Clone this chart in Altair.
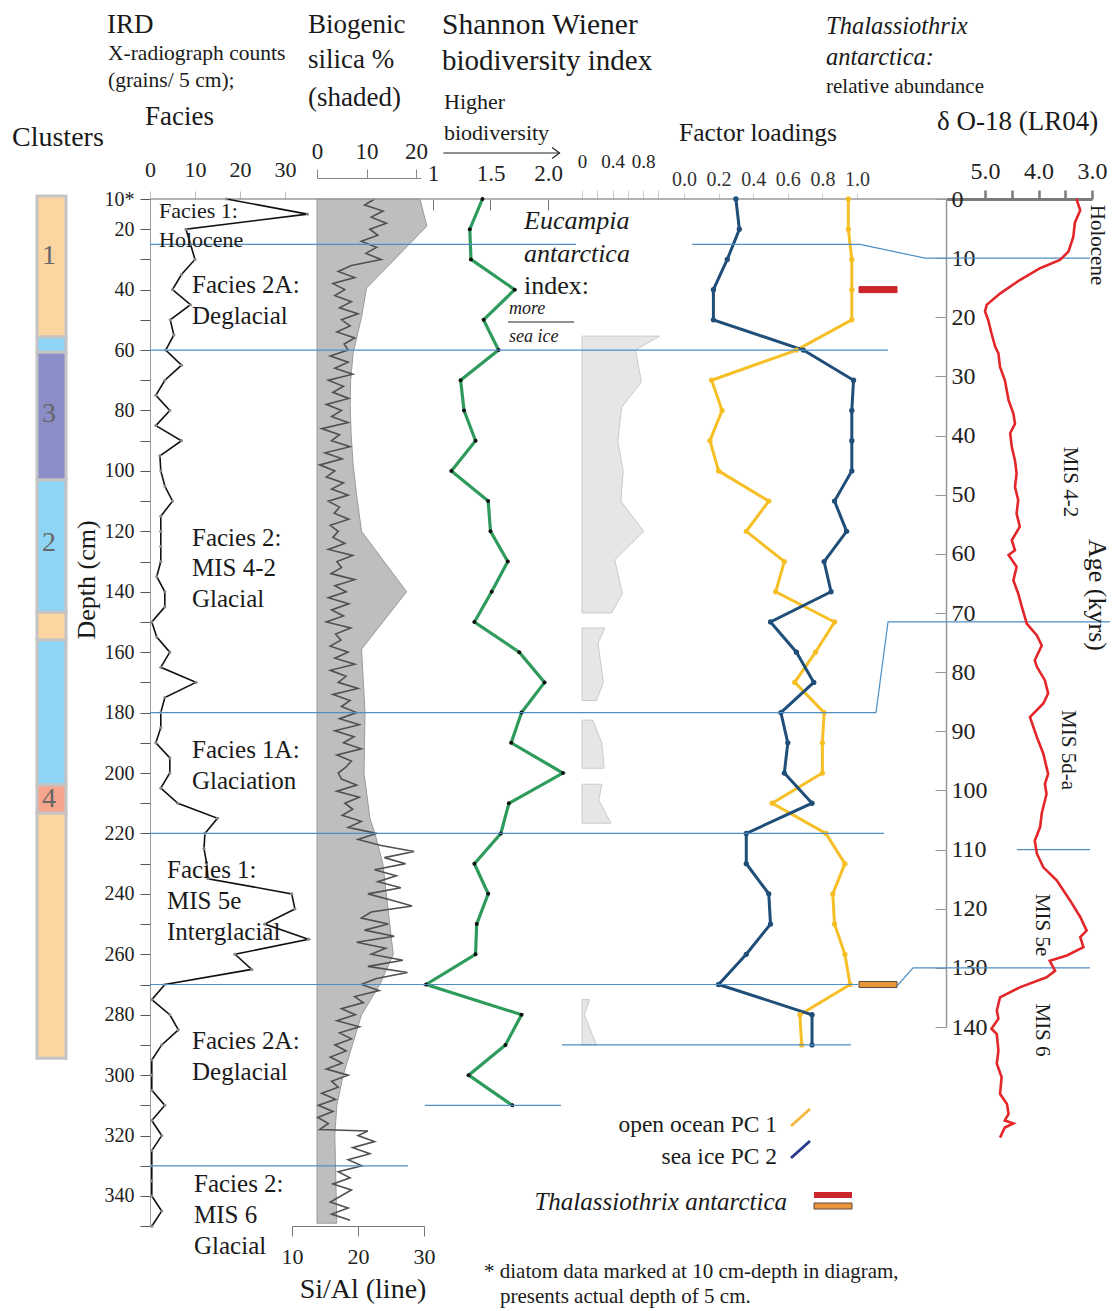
import altair as alt
import pandas as pd

W, H = 1104, 1303
M = 8
FONT = "Liberation Serif"
INK = "#1a1a1a"


def P(v):
    return v - M


# ====================== DATA ======================
# Clusters column (depth, cm)
cluster_top = [9, 55.7, 60.7, 103, 146.8, 156, 204, 213.3]
cluster_bottom = [55.7, 60.7, 103, 146.8, 156, 204, 213.3, 294.4]
cluster_kind = ["1", "2", "3", "2", "1", "2", "4", "1"]
cluster_label = ["1", "3", "2", "4"]
cluster_label_depth = [29, 81, 124, 208.5]

# IRD counts (grains / 5 cm)
ird_depth = [10, 15, 20, 25, 30, 35, 40, 45, 50, 55, 60, 65, 70, 75, 80, 85, 90, 95, 100, 105,
             110, 115, 120, 125, 130, 135, 140, 145, 150, 155, 160, 165, 170, 175, 180, 185, 190,
             195, 200, 205, 210, 215, 220, 225, 230, 235, 240, 245, 250, 255, 260, 265, 270, 275,
             280, 285, 290, 295, 300, 305, 310, 315, 320, 325, 330, 335, 340, 345, 350]
ird_count = [17, 35, 8, 9, 10, 7, 5, 9, 4.5, 5.3, 3.5, 7, 3.3, 1.3, 4.4, 1.3, 7, 2.2, 2.4, 3.3,
             5, 2.4, 2.4, 2.4, 2.4, 1.5, 3.3, 3.3, 0.4, 1.5, 4.4, 2.4, 10.2, 3.3, 2.4, 2.4, 1.3,
             4.4, 4.4, 2.4, 6.2, 15, 12.2, 12, 12.6, 12.9, 31.5, 32.2, 25.5, 35.2, 18.9, 22.6, 3.3, 0.4,
             4.4, 6.3, 2.6, 0.4, 0.4, 0.4, 3.3, 0.4, 2.6, 0.4, 0.4, 0.4, 0.4, 2.6, 0.4]

# Biogenic silica % (shaded)
bsi_depth = [10, 19, 39.5, 49, 61, 70, 78, 88, 98, 108, 120, 140, 159, 180, 200, 215, 220, 230,
             260, 270, 280, 300, 310, 320, 349]
bsi_value = [20.8, 22.2, 10, 9, 7.3, 6.8, 6.7, 6.9, 7.3, 8.0, 9.0, 18.1, 9.0, 9.7, 9.5, 10.7, 11.7,
             13.3, 15.4, 12.7, 9.0, 5.3, 4.0, 3.6, 4.0]

# Si/Al (line)
sial_depth = [10, 12, 14, 16, 18, 20, 22, 24, 26, 28, 30, 32, 34, 36, 38, 40,
              42, 44, 46, 48, 50, 52, 54, 56, 58, 60, 62, 64, 66, 68, 70, 72, 74, 76, 78, 80,
              82, 84, 86, 88, 90, 92, 94, 96, 98, 100, 102, 104, 106, 108, 110, 112, 114, 116, 118, 120,
              122, 124, 126, 128, 130, 132, 134, 136, 138, 140, 142, 144, 146, 148, 150, 152, 154, 156, 158, 160,
              162, 164, 166, 168, 170, 172, 174, 176, 178, 180, 182, 184, 186, 188, 190, 192, 194, 196, 198, 200,
              202, 204, 206, 208, 210, 212, 214, 216, 218, 220, 222, 224, 226, 228, 230, 232, 234, 236,
              238, 240, 242, 244, 246, 248, 250, 252, 254, 256, 258, 260, 262, 264, 266, 268, 270, 272, 274,
              276, 278, 280, 282, 284, 286, 288, 290, 292, 294, 296, 298, 300, 302, 304,
              306, 308, 310, 312, 314, 316, 318, 318.5, 320, 322, 324, 326, 328, 330,
              332, 334, 336, 338, 340, 342, 344, 346, 348]
sial_value = [22.5, 21.0, 23.8, 22.0, 24.3, 21.8, 23.0, 20.5, 22.8, 21.2, 23.5, 19.0, 17.0, 19.5, 16.2, 18.0,
              16.5, 19.0, 17.2, 20.0, 17.5, 18.8, 16.8, 19.5, 17.9, 18.5, 15.8, 18.5, 16.5, 19.2, 15.5, 17.8, 16.2, 18.6, 15.2, 17.5,
              16.0, 18.5, 14.5, 17.2, 16.0, 18.8, 15.0, 17.6, 14.2, 16.5, 15.2, 17.8, 16.0, 18.5, 15.5, 17.2, 16.4, 18.6, 15.8, 17.0,
              16.2, 18.0, 15.5, 19.2, 16.8, 17.5, 15.9, 19.5, 16.5, 18.2, 15.5, 18.6, 16.0, 17.8, 15.2, 18.9, 16.6, 17.4, 15.8, 18.5,
              16.5, 19.5, 15.8, 18.2, 17.0, 20.0, 16.2, 18.8, 17.5, 19.8, 17.2, 20.2, 16.5, 19.4, 17.8, 20.5, 16.8, 19.0, 18.2, 17.0,
              17.5, 19.8, 16.8, 20.2, 18.0, 19.2, 17.6, 20.5, 18.5, 22.8, 20.0, 23.5, 28.5, 24.0, 27.2, 22.5, 25.8, 23.0,
              26.5, 21.5, 25.0, 28.2, 22.0, 20.5, 24.6, 21.0, 25.5, 19.8, 24.2, 22.0, 26.8, 21.5, 27.5, 22.8, 20.5, 23.2, 19.5,
              20.8, 17.5, 19.6, 16.8, 20.2, 17.2, 19.0, 16.5, 18.2, 15.8, 17.6, 15.2, 18.5, 16.0, 17.0,
              14.5, 16.6, 14.0, 16.2, 13.9, 15.5, 14.2, 21.5, 20.0, 22.5, 19.2, 21.8, 18.5, 20.6,
              17.0, 18.8, 16.2, 19.0, 17.4, 15.8, 18.5, 16.0, 18.8]

# Shannon Wiener biodiversity index
sh_depth = [10, 20, 30, 40, 50, 60, 70, 80, 90, 100, 110, 120, 130, 140, 150, 160, 170, 180, 190, 200,
            210, 220, 230, 240, 250, 260, 270, 280, 290, 300, 310]
sh_value = [1.43, 1.32, 1.33, 1.71, 1.44, 1.57, 1.24, 1.27, 1.37, 1.16, 1.48, 1.50, 1.65, 1.51, 1.36,
            1.75, 1.97, 1.77, 1.68, 2.13, 1.66, 1.59, 1.36, 1.48, 1.38, 1.37, 0.94, 1.77, 1.63, 1.31, 1.69]

# Eucampia antarctica index (shaded, with gaps)
euc_block = ["a"] * 11 + ["b"] * 4 + ["c"] * 3 + ["d"] * 3 + ["e"] * 3
euc_depth = [55.4, 60, 70.5, 79, 90, 100, 110, 120, 129.5, 140.5, 147,
             152, 157, 170, 176, 182.5, 190, 198.4, 203.7, 209, 216.6, 275, 280, 290]
euc_value = [1.02, 0.70, 0.78, 0.52, 0.47, 0.54, 0.51, 0.81, 0.43, 0.53, 0.39,
             0.30, 0.21, 0.28, 0.19, 0.14, 0.26, 0.29, 0.26, 0.22, 0.38, 0.10, 0.03, 0.19]

# Factor loadings
fac_depth = [10, 20, 30, 40, 50, 60, 70, 80, 90, 100, 110, 120, 130, 140, 150, 160, 170, 180, 190, 200,
             210, 220, 230, 240, 250, 260, 270, 280, 290]
fac_open = [0.95, 0.95, 0.97, 0.97, 0.97, 0.65, 0.16, 0.22, 0.15, 0.20, 0.49, 0.36, 0.58, 0.53, 0.87,
            0.76, 0.64, 0.81, 0.80, 0.80, 0.51, 0.82, 0.93, 0.86, 0.87, 0.93, 0.96, 0.67, 0.68]
fac_ice = [0.30, 0.32, 0.25, 0.17, 0.17, 0.69, 0.98, 0.97, 0.97, 0.97, 0.87, 0.94, 0.81, 0.85, 0.50,
           0.65, 0.75, 0.56, 0.60, 0.58, 0.74, 0.36, 0.36, 0.49, 0.50, 0.36, 0.20, 0.74, 0.74]

# Thalassiothrix antarctica markers
thal_depth = [40, 270]
thal_value = [1.0, 1.0]
thal_kind = ["red", "orange"]

# Facies boundaries (depth cm) and depth-age ties (age kyr)
bound_depth = [25, 25, 60, 180, 220, 270, 290, 310, 330]
tie_depth = [25, 180, 270.5]
tie_age = [10, 71.5, 130]
extra_age_line = [110]

# delta O-18 LR04
d18_age = [0, 1.9, 4, 6.4, 8.9, 10.3, 11.7, 13.7, 16, 17.9, 19, 20.5, 22.7, 25, 26.1, 28.4, 30.6, 34,
           36.3, 38, 39.6, 41.9, 44.2, 46.4, 48.7, 50.9, 53.2, 55.4, 57.7, 59.4, 60.2, 62.2, 64.5, 66.7,
           69, 71.8, 73.8, 75.5, 78, 79.1, 81.4, 83.6, 85.3, 87.6, 91, 93.8, 97.2, 98.9, 100.6, 103.9,
           106.2, 108.5, 110.7, 113, 115.2, 118.6, 121.4, 123.7, 124.8, 126.5, 127.9, 128.8, 130.5,
           131.6, 133.3, 135, 137.2, 138.6, 140.3, 141.2, 144, 146.2, 148.5, 151.3, 153, 154.7, 155.8,
           156.3, 157, 158.7]
d18_value = [3.29, 3.22, 3.32, 3.35, 3.44, 3.60, 3.97, 4.35, 4.72, 4.97, 5.0, 4.94, 4.88, 4.81, 4.75,
             4.72, 4.63, 4.56, 4.47, 4.44, 4.53, 4.50, 4.44, 4.41, 4.44, 4.38, 4.41, 4.35, 4.50, 4.44,
             4.56, 4.41, 4.47, 4.38, 4.31, 4.22, 4.03, 3.94, 4.07, 4.03, 3.88, 3.82, 3.91, 4.16, 4.03,
             3.91, 3.82, 3.88, 3.85, 3.94, 3.97, 4.07, 4.03, 3.91, 3.66, 3.41, 3.22, 3.10, 3.22, 3.16,
             3.47, 3.79, 3.69, 3.85, 4.35, 4.72, 4.78, 4.75, 4.88, 4.78, 4.75, 4.78, 4.69, 4.72, 4.59,
             4.56, 4.63, 4.47, 4.63, 4.72]

# ====================== LAYOUT ======================
DEPTH_PX = (P(199), P(1226.2))
AGE_PX = (P(199), P(1027))

DS = alt.Scale(domain=[10, 350], range=list(DEPTH_PX), nice=False, zero=False)
AS = alt.Scale(domain=[0, 140], range=list(AGE_PX), nice=False, zero=False)
PXX = alt.Scale(domain=[0, W], range=[0, W], nice=False, zero=False)
PXY = alt.Scale(domain=[0, H], range=[0, H], nice=False, zero=False)
IRD_S = alt.Scale(domain=[0, 35], range=[P(150), P(150) + 35 * 4.5], nice=False, zero=False)
BSI_S = alt.Scale(domain=[0, 21], range=[P(317), P(317) + 21 * 4.95], nice=False, zero=False)
SIAL_S = alt.Scale(domain=[10, 30], range=[P(292), P(424)], nice=False, zero=False)
SH_S = alt.Scale(domain=[0.8, 2.2], range=[P(433) - 0.2 * 115, P(433) + 1.2 * 115], nice=False, zero=False)
EU_S = alt.Scale(domain=[0, 1.1], range=[P(582), P(582) + 1.1 * 76.25], nice=False, zero=False)
FA_S = alt.Scale(domain=[0, 1], range=[P(684), P(857)], nice=False, zero=False)
TH_S = alt.Scale(domain=[0, 1], range=[P(859), P(897)], nice=False, zero=False)
OX_S = alt.Scale(domain=[3.0, 5.73], range=[P(946), P(1092)], reverse=True, nice=False, zero=False)


def age_as_depth(a):
    pix = AGE_PX[0] + a * (AGE_PX[1] - AGE_PX[0]) / 140.0
    return 10 + (pix - DEPTH_PX[0]) * 340.0 / (DEPTH_PX[1] - DEPTH_PX[0])


BLUE_LINE = "#4F8FC4"
YEL = "#F6BF26"
NAVY = "#1F4E79"
GREEN = "#2E9B5C"
RED = "#E3262A"

cluster_colors = {"1": "#FDD5A0", "2": "#8DD4F5", "3": "#8B8DC7", "4": "#F5A58C"}

layers = []

# ---- clusters column
cdf = pd.DataFrame({"top": cluster_top, "bottom": cluster_bottom,
                    "c": [cluster_colors[k] for k in cluster_kind]})
layers.append(alt.Chart(cdf).mark_rect(stroke="#C4C4C4", strokeWidth=3).encode(
    x=alt.value(P(37)), x2=alt.value(P(66)),
    y=alt.Y("top:Q", scale=DS, axis=None), y2="bottom:Q",
    color=alt.Color("c:N", scale=None)))
cldf = pd.DataFrame({"d": cluster_label_depth, "t": cluster_label})
layers.append(alt.Chart(cldf).mark_text(font=FONT, fontSize=28, color="#666", baseline="middle").encode(
    x=alt.value(P(49)), y=alt.Y("d:Q", scale=DS, axis=None), text="t:N"))

# ---- biogenic silica (shaded)
bdf = pd.DataFrame({"d": bsi_depth, "v": bsi_value})
layers.append(alt.Chart(bdf).mark_area(orient="horizontal", color="#BEBEBE", stroke="#9A9A9A",
                                       strokeWidth=1, opacity=1).encode(
    y=alt.Y("d:Q", scale=DS, axis=None),
    x=alt.X("v:Q", scale=BSI_S, stack=None, axis=alt.Axis(
        orient="top", offset=-P(178), values=[0, 10, 20], tickSize=9, tickColor="#888",
        domainColor="#888", labelFontSize=23, labelPadding=6, labelColor="#222", title=None))))

# ---- Si/Al line
sdf = pd.DataFrame({"d": sial_depth, "v": sial_value})
layers.append(alt.Chart(sdf).mark_line(color="#505050", strokeWidth=1.6).encode(
    y=alt.Y("d:Q", scale=DS, axis=None),
    x=alt.X("v:Q", scale=SIAL_S, axis=alt.Axis(
        orient="bottom", offset=-(H - P(1226)), values=[10, 20, 30], tickSize=10, tickColor="#777",
        domainColor="#777", labelFontSize=22, labelPadding=10, labelColor="#222", title=None)),
    order=alt.Order("d:Q")))

# ---- top frame line
layers.append(alt.Chart(pd.DataFrame({"k": [0]})).mark_rule(color="#9A9A9A", strokeWidth=1.3).encode(
    x=alt.value(P(150)), x2=alt.value(P(946)), y=alt.value(P(199))))

# ---- IRD
idf = pd.DataFrame({"d": ird_depth, "v": ird_count})
depth_axis = alt.Axis(
    orient="left", offset=-P(150), values=list(range(10, 351, 10)),
    labelExpr="datum.value == 10 ? '10*' : (datum.value % 20 == 0 ? datum.label : '')",
    tickSize=10, tickColor="#555", domainColor="#9A9A9A", labelFontSize=20, labelPadding=6,
    labelColor="#222", title=None)
layers.append(alt.Chart(idf).mark_line(color="#111", strokeWidth=1.6).encode(
    y=alt.Y("d:Q", scale=DS, axis=depth_axis),
    x=alt.X("v:Q", scale=IRD_S, axis=alt.Axis(
        orient="top", offset=-P(199), values=[0, 10, 20, 30], tickSize=8, tickColor="#BBB",
        domain=False, labelFontSize=22, labelPadding=10, labelColor="#222", title=None)),
    order=alt.Order("d:Q")))
layers.append(alt.Chart(idf).mark_circle(color="#888", size=10, opacity=1).encode(
    y=alt.Y("d:Q", scale=DS, axis=None), x=alt.X("v:Q", scale=IRD_S, axis=None)))

# ---- Eucampia index
edf = pd.DataFrame({"d": euc_depth, "v": euc_value, "b": euc_block})
layers.append(alt.Chart(edf).mark_area(orient="horizontal", color="#E6E6E6", stroke="#CACACA",
                                       strokeWidth=1, opacity=1).encode(
    y=alt.Y("d:Q", scale=DS, axis=None),
    x=alt.X("v:Q", scale=EU_S, stack=None, axis=alt.Axis(
        orient="top", offset=-P(199), values=[0, 0.2, 0.4, 0.6, 0.8, 1.0], tickSize=9,
        tickColor="#CCC", domain=False, labelFontSize=19, labelPadding=19, labelColor="#222",
        labelExpr="datum.value == 0 ? '0' : ((datum.value == 0.4 || datum.value == 0.8) ? format(datum.value, '.1f') : '')",
        title=None)),
    detail="b:N"))

# ---- Shannon Wiener
shdf = pd.DataFrame({"d": sh_depth, "v": sh_value})
layers.append(alt.Chart(shdf).mark_line(color=GREEN, strokeWidth=3.2).encode(
    y=alt.Y("d:Q", scale=DS, axis=None),
    x=alt.X("v:Q", scale=SH_S, axis=alt.Axis(
        orient="bottom", offset=-(H - P(199)), values=[1, 1.5, 2.0], tickSize=11, tickColor="#777",
        domain=False, labels=False, title=None)),
    order=alt.Order("d:Q")))
layers.append(alt.Chart(shdf).mark_circle(color="#111", size=16, opacity=1).encode(
    y=alt.Y("d:Q", scale=DS, axis=None), x=alt.X("v:Q", scale=SH_S, axis=None)))

# arrow "Higher biodiversity" (carries Shannon tick labels)
arrow_df = pd.DataFrame({"a0": [1.09], "a1": [2.10]})
layers.append(alt.Chart(arrow_df).mark_rule(color="#222", strokeWidth=1.2).encode(
    x=alt.X("a0:Q", scale=SH_S, axis=alt.Axis(
        orient="top", offset=-P(199), values=[1, 1.5, 2.0], ticks=False, domain=False,
        labelExpr="datum.value == 1 ? '1' : format(datum.value, '.1f')", labelFontSize=23,
        labelPadding=14, labelColor="#222", title=None)),
    x2="a1:Q", y=alt.value(P(153))))
layers.append(alt.Chart(arrow_df).mark_point(shape="M-1,-0.75L0,0L-1,0.75", filled=False,
                                             color="#222", strokeWidth=1.2, size=220, opacity=1).encode(
    x=alt.X("a1:Q", scale=SH_S, axis=None), y=alt.value(P(153))))

# ---- Factor loadings
fdf = pd.DataFrame({"d": fac_depth * 2, "v": fac_open + fac_ice,
                    "s": ["open"] * len(fac_depth) + ["ice"] * len(fac_depth)})
fcol = alt.Color("s:N", scale=alt.Scale(domain=["open", "ice"], range=[YEL, NAVY]), legend=None)
layers.append(alt.Chart(fdf).mark_line(strokeWidth=3).encode(
    y=alt.Y("d:Q", scale=DS, axis=None),
    x=alt.X("v:Q", scale=FA_S, axis=alt.Axis(
        orient="top", offset=-P(199), values=[0.0, 0.2, 0.4, 0.6, 0.8, 1.0], format=".1f",
        tickSize=6, tickColor="#CCC", domain=False, labelFontSize=20, labelPadding=4,
        labelColor="#333", title=None)),
    color=fcol, detail="s:N", order=alt.Order("d:Q")))
layers.append(alt.Chart(fdf).mark_circle(size=28, opacity=1).encode(
    y=alt.Y("d:Q", scale=DS, axis=None), x=alt.X("v:Q", scale=FA_S, axis=None), color=fcol))

# ---- Thalassiothrix markers
tdf = pd.DataFrame({"d0": [d - 1.0 for d in thal_depth], "d1": [d + 1.0 for d in thal_depth],
                    "x0": [0, 0], "x1": thal_value,
                    "f": ["#C9252B" if k == "red" else "#E9963A" for k in thal_kind],
                    "st": ["#C9252B" if k == "red" else "#5A4A3A" for k in thal_kind]})
layers.append(alt.Chart(tdf).mark_rect(strokeWidth=1).encode(
    x=alt.X("x0:Q", scale=TH_S, axis=None), x2="x1:Q",
    y=alt.Y("d0:Q", scale=DS, axis=None), y2="d1:Q",
    color=alt.Color("f:N", scale=None), stroke=alt.Stroke("st:N", scale=None)))

# ---- boundary lines
bx0 = [150, 692, 150, 150, 150, 150, 562, 425, 150]
bx1 = [576, 860, 888, 876, 884, 858, 851, 561, 408]
brdf = pd.DataFrame({"d": bound_depth, "x0": [P(v) for v in bx0], "x1": [P(v) for v in bx1]})
layers.append(alt.Chart(brdf).mark_rule(color=BLUE_LINE, strokeWidth=1.2).encode(
    y=alt.Y("d:Q", scale=DS, axis=None),
    x=alt.X("x0:Q", scale=PXX, axis=None), x2="x1:Q"))

# depth-age tie lines
tie_x = [(860, 925, 1090), (876, 888, 1110), (897, 913, 1090)]
rows = []
for g, (dd, aa, xs) in enumerate(zip(tie_depth, tie_age, tie_x)):
    rows.append((g, 0, P(xs[0]), dd))
    rows.append((g, 1, P(xs[1]), age_as_depth(aa)))
    rows.append((g, 2, P(xs[2]), age_as_depth(aa)))
tldf = pd.DataFrame(rows, columns=["g", "i", "x", "d"])
layers.append(alt.Chart(tldf).mark_line(color=BLUE_LINE, strokeWidth=1.2).encode(
    x=alt.X("x:Q", scale=PXX, axis=None), y=alt.Y("d:Q", scale=DS, axis=None),
    detail="g:N", order=alt.Order("i:Q")))

# age 110 line (carries the age tick labels)
a110 = pd.DataFrame({"a": extra_age_line, "x0": [P(1017)], "x1": [P(1090)]})
layers.append(alt.Chart(a110).mark_rule(color=BLUE_LINE, strokeWidth=1.2).encode(
    y=alt.Y("a:Q", scale=AS, axis=alt.Axis(
        orient="right", offset=-(W - P(946)), values=list(range(0, 141, 10)), ticks=False,
        domain=False, labelFontSize=24, labelPadding=5, labelColor="#222", title=None)),
    x=alt.X("x0:Q", scale=PXX, axis=None), x2="x1:Q"))

# ---- delta O-18
odf = pd.DataFrame({"a": d18_age, "v": d18_value})
layers.append(alt.Chart(odf).mark_line(color=RED, strokeWidth=2.6).encode(
    y=alt.Y("a:Q", scale=AS, axis=alt.Axis(
        orient="left", offset=-P(946), values=list(range(0, 141, 10)), labels=False, tickSize=11,
        tickColor="#999", domainColor="#999", domainWidth=1.5, title=None)),
    x=alt.X("v:Q", scale=OX_S, axis=alt.Axis(
        orient="top", offset=-P(199), values=[5.0, 4.5, 4.0, 3.5, 3.0], tickSize=9,
        tickColor="#7A7A7A", tickWidth=2.5, domainColor="#7A7A7A", domainWidth=3,
        labelExpr="(datum.value == 4.5 || datum.value == 3.5) ? '' : format(datum.value, '.1f')",
        labelFontSize=24, labelPadding=7, labelColor="#222", title=None)),
    order=alt.Order("a:Q")))

# ---- legend glyphs and small decorations
one = pd.DataFrame({"k": [0]})
layers.append(alt.Chart(one).mark_rule(color="#F5B942", strokeWidth=3).encode(
    x=alt.value(P(791)), x2=alt.value(P(810)), y=alt.value(P(1126)), y2=alt.value(P(1109))))
layers.append(alt.Chart(one).mark_rule(color="#2B3990", strokeWidth=3).encode(
    x=alt.value(P(791)), x2=alt.value(P(810)), y=alt.value(P(1158)), y2=alt.value(P(1141))))
layers.append(alt.Chart(one).mark_rect(color="#C9252B").encode(
    x=alt.value(P(814)), x2=alt.value(P(852)), y=alt.value(P(1192)), y2=alt.value(P(1198))))
layers.append(alt.Chart(one).mark_rect(color="#E9963A", stroke="#5A4A3A", strokeWidth=1).encode(
    x=alt.value(P(814)), x2=alt.value(P(852)), y=alt.value(P(1203)), y2=alt.value(P(1209))))
layers.append(alt.Chart(one).mark_rule(color="#222", strokeWidth=1).encode(
    x=alt.value(P(508)), x2=alt.value(P(574)), y=alt.value(P(322))))

# ---- text annotations
def ann_layer(rows, style, align):
    df = pd.DataFrame(rows, columns=["t", "x", "y", "s", "a"])
    df["x"] = df["x"] - M
    df["y"] = df["y"] - M
    return alt.Chart(df).mark_text(font=FONT, fontStyle=style, align=align, baseline="middle",
                                   color=INK).encode(
        x=alt.X("x:Q", scale=PXX, axis=None),
        y=alt.Y("y:Q", scale=PXY, axis=None),
        text=alt.Text("t:N"),
        size=alt.Size("s:Q", scale=None),
        angle=alt.Angle("a:Q", scale=None))


normal_left = [
    ("IRD", 107, 25, 27, 0),
    ("X-radiograph counts", 108, 54, 21.5, 0),
    ("(grains/ 5 cm);", 108, 81, 21.5, 0),
    ("Facies", 145, 117, 27, 0),
    ("Clusters", 12, 138, 28, 0),
    ("Biogenic", 308, 25, 27, 0),
    ("silica %", 308, 60, 27, 0),
    ("(shaded)", 308, 98, 27, 0),
    ("Shannon Wiener", 442, 25, 29.5, 0),
    ("biodiversity index", 442, 61, 29, 0),
    ("Higher", 444, 102, 22, 0),
    ("biodiversity", 444, 133, 22, 0),
    ("relative abundance", 826, 87, 21, 0),
    ("Factor loadings", 679, 133, 25.5, 0),
    ("δ O-18 (LR04)", 937, 122, 27, 0),
    ("index:", 524, 286, 26, 0),
    ("Facies 1:", 159, 211, 22, 0),
    ("Holocene", 159, 240, 22, 0),
    ("Facies 2A:", 192, 285, 25, 0),
    ("Deglacial", 192, 316, 25, 0),
    ("Facies 2:", 192, 538, 25, 0),
    ("MIS 4-2", 192, 568, 25, 0),
    ("Glacial", 192, 599, 25, 0),
    ("Facies 1A:", 192, 750, 25, 0),
    ("Glaciation", 192, 781, 25, 0),
    ("Facies 1:", 167, 870, 25, 0),
    ("MIS 5e", 167, 901, 25, 0),
    ("Interglacial", 167, 932, 25, 0),
    ("Facies 2A:", 192, 1041, 25, 0),
    ("Deglacial", 192, 1072, 25, 0),
    ("Facies 2:", 194, 1184, 25, 0),
    ("MIS 6", 194, 1215, 25, 0),
    ("Glacial", 194, 1246, 25, 0),
    ("* diatom data marked at 10 cm-depth in diagram,", 484, 1272, 21, 0),
    ("presents actual depth of 5 cm.", 500, 1297, 21, 0),
]
italic_left = [
    ("Thalassiothrix", 826, 27, 24.5, 0),
    ("antarctica:", 826, 58, 24.5, 0),
    ("Eucampia", 524, 221, 26, 0),
    ("antarctica", 524, 254, 26, 0),
    ("more", 509, 309, 18, 0),
    ("sea ice", 509, 337, 18, 0),
]
normal_center = [
    ("Holocene", 1097, 245, 21, 90),
    ("MIS 4-2", 1070, 482, 21, 90),
    ("Age (kyrs)", 1097, 595, 26, 90),
    ("MIS 5d-a", 1068, 750, 21, 90),
    ("MIS 5e", 1042, 925, 21, 90),
    ("MIS 6", 1042, 1030, 21, 90),
    ("Depth (cm)", 87, 580, 26, 270),
    ("Si/Al  (line)", 363, 1290, 28, 0),
]
normal_right = [
    ("open ocean PC 1", 777, 1125, 23.5, 0),
    ("sea ice PC 2", 777, 1157, 23.5, 0),
]
italic_right = [
    ("Thalassiothrix antarctica", 787, 1202, 25, 0),
]
layers.append(ann_layer(normal_left, "normal", "left"))
layers.append(ann_layer(italic_left, "italic", "left"))
layers.append(ann_layer(normal_center, "normal", "center"))
layers.append(ann_layer(normal_right, "normal", "right"))
layers.append(ann_layer(italic_right, "italic", "right"))

chart = alt.layer(*layers).resolve_scale(
    x="independent", y="independent", color="independent"
).properties(
    width=W, height=H, padding=0, autosize=alt.AutoSizeParams(type="none"), background="white"
).configure_view(stroke=None).configure_axis(
    grid=False, labelFont=FONT, titleFont=FONT, labelFlush=False, labelOverlap=False
)

chart.save("out.html", embed_options={"renderer": "svg", "actions": False})
